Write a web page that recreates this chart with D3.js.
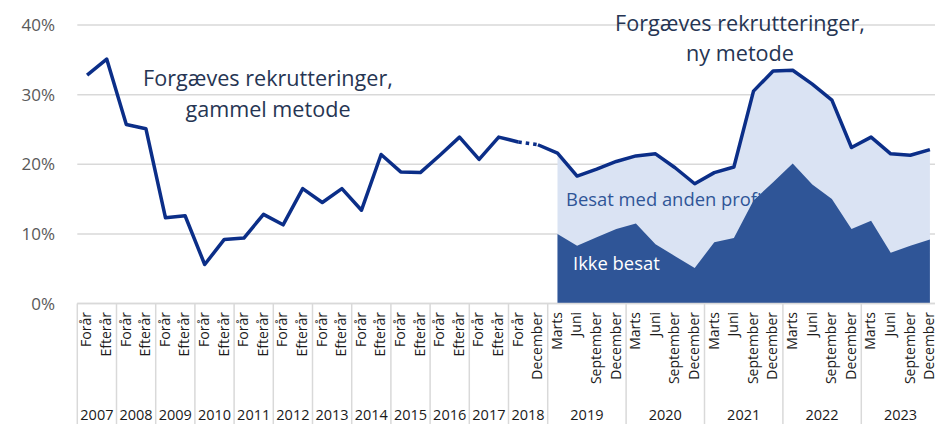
<!DOCTYPE html>
<meta charset="utf-8">
<html>
<head>
  <script src="https://d3js.org/d3.v7.min.js"></script>
  <style>
    body { margin: 0; background: #fff; font-family: "Open Sans", sans-serif; }
    svg { display: block; }
  </style>
</head>
<body>
  <svg width="935" height="424"></svg>
  <script>
    // x-axis labels
    const periods = [
      "Forår","Efterår","Forår","Efterår","Forår","Efterår","Forår","Efterår",
      "Forår","Efterår","Forår","Efterår","Forår","Efterår","Forår","Efterår",
      "Forår","Efterår","Forår","Efterår","Forår","Efterår",
      "Forår","December",
      "Marts","Juni","September","December","Marts","Juni","September","December",
      "Marts","Juni","September","December","Marts","Juni","September","December",
      "Marts","Juni","September","December"
    ];
    const years = ["2007","2008","2009","2010","2011","2012","2013","2014","2015",
                   "2016","2017","2018","2019","2020","2021","2022","2023"];
    const yearSpan = [2,2,2,2,2,2,2,2,2,2,2,2,4,4,4,4,4];
    const yTicks = [0, 10, 20, 30, 40];

    // Forgæves rekrutteringer, gammel metode (Forår 2007 - Forår 2018), pct.
    const oldMethod = [32.8, 35.1, 25.7, 25.1, 12.3, 12.6, 5.6, 9.2, 9.4, 12.8, 11.3,
                       16.5, 14.5, 16.5, 13.4, 21.4, 18.9, 18.8, 21.3, 23.9, 20.7, 23.9, 23.2];
    // Forgæves rekrutteringer, ny metode (December 2018 - December 2023), pct.
    const newMethod = [22.8, 21.6, 18.3, 19.3, 20.4, 21.2, 21.5, 19.5, 17.2, 18.8, 19.6,
                       30.5, 33.4, 33.5, 31.5, 29.2, 22.4, 23.9, 21.5, 21.3, 22.1];
    // Ikke besat (Marts 2019 - December 2023), pct.
    const ikkeBesat = [10.0, 8.3, 9.5, 10.7, 11.5, 8.5, 6.8, 5.1, 8.8, 9.4, 14.8,
                       17.4, 20.1, 17.1, 15.0, 10.7, 11.9, 7.3, 8.3, 9.2];

    const plotLeft = 77.3, step = 19.6, plotTop = 25, plotBottom = 303.5;
    const navy = "#0b2e88", dark = "#2f5597", light = "#dae3f3", grid = "#d9d9d9";

    const svg = d3.select("svg");

    const x = d3.scaleBand()
        .domain(d3.range(periods.length))
        .range([plotLeft, plotLeft + step * periods.length])
        .padding(0);
    const cx = i => x(i) + x.bandwidth() / 2;
    const edge = i => plotLeft + x.step() * i;

    const y = d3.scaleLinear().domain([0, 40]).range([plotBottom, plotTop]);

    // gridlines + y labels
    svg.append("g").selectAll("line")
      .data(yTicks)
      .enter().append("line")
        .attr("x1", plotLeft).attr("x2", 935)
        .attr("y1", d => y(d)).attr("y2", d => y(d))
        .attr("stroke", grid).attr("stroke-width", 1.5);

    svg.append("g").selectAll("text")
      .data(yTicks)
      .enter().append("text")
        .attr("x", 55).attr("y", d => y(d))
        .attr("dy", "0.36em")
        .attr("text-anchor", "end")
        .style("font-size", "17px")
        .style("fill", "#595959")
        .text(d => d + "%");

    // stacked areas for ny metode
    const startNew = oldMethod.length;      // index of December 2018
    const areaIdx = ikkeBesat.map((d, i) => startNew + 1 + i);

    svg.append("path")
        .datum(areaIdx)
        .attr("fill", light)
        .attr("d", d3.area()
          .x(i => cx(i))
          .y0(y(0))
          .y1(i => y(newMethod[i - startNew])));

    svg.append("path")
        .datum(areaIdx)
        .attr("fill", dark)
        .attr("d", d3.area()
          .x(i => cx(i))
          .y0(y(0))
          .y1((i, k) => y(ikkeBesat[k])));

    // lines
    const line = d3.line().x(d => cx(d[0])).y(d => y(d[1]));
    const oldPts = oldMethod.map((v, i) => [i, v]);
    const newPts = newMethod.map((v, i) => [startNew + i, v]);

    svg.append("path")
        .datum(oldPts)
        .attr("fill", "none").attr("stroke", navy)
        .attr("stroke-width", 3.5).attr("stroke-linejoin", "round")
        .attr("d", line);

    svg.append("path")
        .datum([oldPts[oldPts.length - 1], newPts[0]])
        .attr("fill", "none").attr("stroke", navy)
        .attr("stroke-width", 3.5).attr("stroke-dasharray", "3.5,4")
        .attr("d", line);

    svg.append("path")
        .datum(newPts)
        .attr("fill", "none").attr("stroke", navy)
        .attr("stroke-width", 3.5).attr("stroke-linejoin", "round")
        .attr("d", line);

    // x axis: baseline, year boxes, labels
    svg.append("line")
        .attr("x1", plotLeft).attr("x2", 935)
        .attr("y1", y(0)).attr("y2", y(0))
        .attr("stroke", grid).attr("stroke-width", 1.5);

    let acc = 0;
    const yearStart = yearSpan.map(n => { const s = acc; acc += n; return s; });

    svg.append("g").selectAll("line")
      .data(yearStart.concat([periods.length]))
      .enter().append("line")
        .attr("x1", d => edge(d)).attr("x2", d => edge(d))
        .attr("y1", y(0)).attr("y2", 424)
        .attr("stroke", grid).attr("stroke-width", 1.5);

    svg.append("g").selectAll("text")
      .data(periods)
      .enter().append("text")
        .attr("transform", (d, i) => `translate(${cx(i)},312) rotate(-90)`)
        .attr("dy", "0.3em")
        .attr("text-anchor", "end")
        .style("font-size", "14px")
        .style("fill", "#1a1a1a")
        .text(d => d);

    svg.append("g").selectAll("text")
      .data(years)
      .enter().append("text")
        .attr("x", (d, i) => edge(yearStart[i]) + x.step() * yearSpan[i] / 2)
        .attr("y", 420)
        .attr("text-anchor", "middle")
        .style("font-size", "14.5px")
        .style("fill", "#1a1a1a")
        .text(d => d);

    // annotations
    const note = svg.append("g")
        .attr("text-anchor", "middle")
        .style("font-size", "21.6px")
        .style("fill", "#263553");
    note.append("text").attr("x", 268).attr("y", 86).text("Forgæves rekrutteringer,");
    note.append("text").attr("x", 268).attr("y", 117).text("gammel metode");
    note.append("text").attr("x", 740).attr("y", 31).text("Forgæves rekrutteringer,");
    note.append("text").attr("x", 740).attr("y", 61).text("ny metode");

    svg.append("text")
        .attr("x", 566).attr("y", 206)
        .style("font-size", "18.4px")
        .style("fill", dark)
        .text("Besat med anden profil");

    svg.append("text")
        .attr("x", 573).attr("y", 270)
        .style("font-size", "18.4px")
        .style("fill", "#fff")
        .text("Ikke besat");
  </script>
</body>
</html>
